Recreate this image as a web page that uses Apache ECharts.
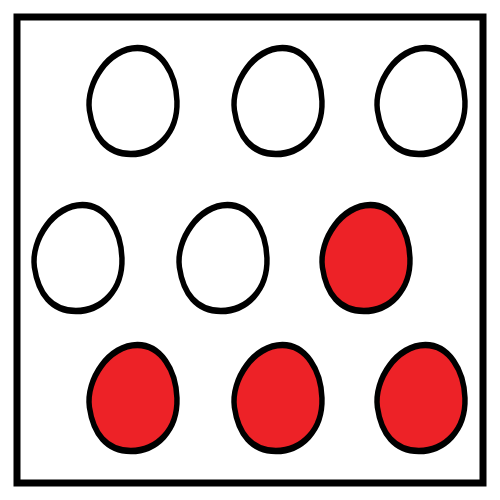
<!DOCTYPE html>
<html>
<head>
<meta charset="utf-8">
<script src="https://cdn.jsdelivr.net/npm/echarts@6/dist/echarts.min.js"></script>
<style>
  html, body { margin: 0; padding: 0; background: #fff; }
  #chart { width: 500px; height: 500px; }
</style>
</head>
<body>
<div id="chart"></div>
<script>
// oval centres, measured from the box's top-left corner
let ovalX = [116, 261, 404, 61, 206, 349, 116, 261, 404]
let ovalY = [84, 84, 84, 241, 241, 241, 381, 381, 381]
let shaded = [false, false, false, false, false, true, true, true, true]

let eggPath = 'path://M55 3C80 3 96 30 97 60C98 95 75 117 48 117C22 117 8 98 4 70C0 40 25 3 55 3Z'

let myChart = echarts.init(document.getElementById('chart'), null, { renderer: 'canvas' })

let option = {
  animation: false,
  grid: {
    left: 17, top: 17, right: 17, bottom: 17,
    show: true,
    borderColor: '#000',
    borderWidth: 7,
    backgroundColor: '#fff'
  },
  xAxis: { type: 'value', min: 0, max: 466, show: false },
  yAxis: { type: 'value', min: 0, max: 466, inverse: true, show: false },
  series: [
    {
      type: 'scatter',
      symbol: eggPath,
      symbolSize: [88, 106],
      data: ovalX.map(function (x, i) {
        return {
          value: [x, ovalY[i]],
          itemStyle: { color: shaded[i] ? '#ED2227' : '#fff' }
        }
      }),
      itemStyle: {
        borderColor: '#000',
        borderWidth: 6,
        opacity: 1
      },
      emphasis: { disabled: true }
    }
  ]
}

myChart.setOption(option)
</script>
</body>
</html>
